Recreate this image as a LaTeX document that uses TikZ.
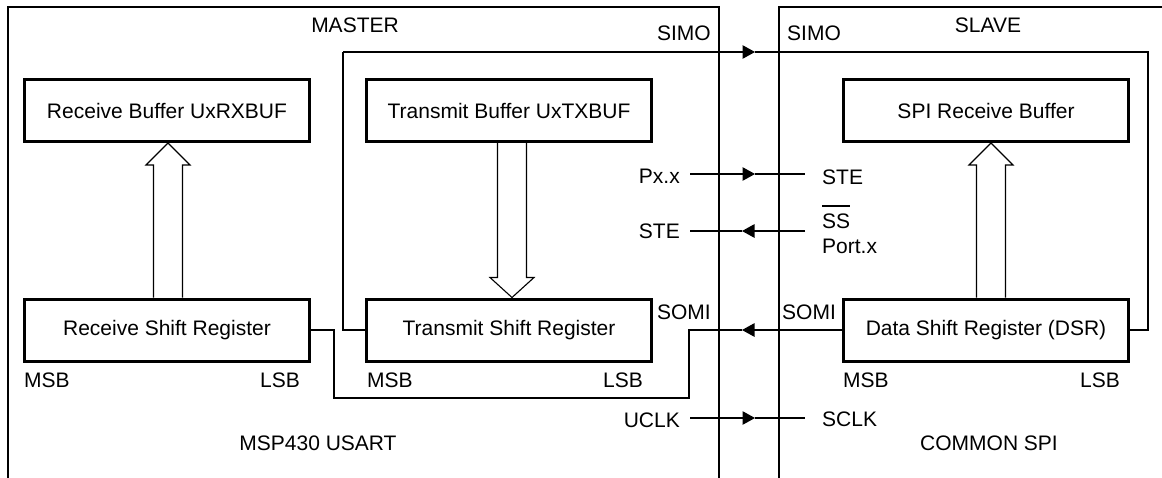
\documentclass[tikz,border=0pt]{standalone}
\usepackage{fontspec}
\setmainfont{Liberation Sans}
\usetikzlibrary{arrows.meta,calc}
\begin{document}
\begin{tikzpicture}[x=1pt,y=-1pt,
  frame/.style={line width=2pt},
  box/.style={draw, line width=3pt, minimum width=285pt, minimum height=62pt, inner sep=0pt, font=\fontsize{21}{24}\selectfont},
  lbl/.style={inner sep=0pt, font=\fontsize{21}{24}\selectfont},
  wire/.style={line width=1.1pt},
  tip/.style={-{Triangle[length=12.5pt,width=13.5pt]}},
  hollow/.style={line width=1.1pt, line join=miter}]
\useasboundingbox (0,0) rectangle (1162,477);
\clip (0,0) rectangle (1162,477);
\fill[white] (0,0) rectangle (1162,477);
% frames
\draw[frame] (8,490) -- (8,7) -- (719,7) -- (719,490);
\draw[frame] (779,490) -- (779,7) -- (1170,7);
% boxes
\node[box] (rxbuf) at (167,110.5) {Receive Buffer UxRXBUF};
\node[box] (txbuf) at (509,110.5) {Transmit Buffer UxTXBUF};
\node[box] (spirx) at (986,110.5) {SPI Receive Buffer};
\node[box] (rsr) at (167,330) {Receive Shift Register};
\node[box] (tsr) at (509,330) {Transmit Shift Register};
\node[box] (dsr) at (986,330) {Data Shift Register (DSR)};
% hollow arrows
\draw[hollow] let \p1=($(rsr.north)+(1,0)$), \p2=(rxbuf.south) in
  (\x1-14.5pt,\y1) -- (\x1-14.5pt,\y2-22pt) -- (\x1-22pt,\y2-22pt) -- (\x1,\y2)
  -- (\x1+22pt,\y2-22pt) -- (\x1+14.5pt,\y2-22pt) -- (\x1+14.5pt,\y1);
\draw[hollow] let \p1=($(txbuf.south)+(3,0)$), \p2=(tsr.north) in
  (\x1-14.5pt,\y1) -- (\x1-14.5pt,\y2+20pt) -- (\x1-22pt,\y2+20pt) -- (\x1,\y2)
  -- (\x1+22pt,\y2+20pt) -- (\x1+14.5pt,\y2+20pt) -- (\x1+14.5pt,\y1);
\draw[hollow] let \p1=($(dsr.north)+(5,0)$), \p2=(spirx.south) in
  (\x1-14.5pt,\y1) -- (\x1-14.5pt,\y2-22pt) -- (\x1-22pt,\y2-22pt) -- (\x1,\y2)
  -- (\x1+22pt,\y2-22pt) -- (\x1+14.5pt,\y2-22pt) -- (\x1+14.5pt,\y1);
% labels
\node[lbl, anchor=base] (master) at (355,32) {MASTER};
\node[lbl, anchor=base] (slave) at (988,32) {SLAVE};
\node[lbl, anchor=base east] (simoM) at (711,40.5) {SIMO};
\node[lbl, anchor=base west] (simoS) at (787,40.5) {SIMO};
\node[lbl, anchor=base east] (pxx) at (680,183) {Px.x};
\node[lbl, anchor=base east] (steM) at (680,238) {STE};
\node[lbl, anchor=base east] (somiM) at (711,319) {SOMI};
\node[lbl, anchor=base west] (somiS) at (782,319) {SOMI};
\node[lbl, anchor=base east] (uclk) at (680,427) {UCLK};
\node[lbl, anchor=base west] (steS) at (822,184) {STE};
\node[lbl, anchor=base west] (ss) at (822,228) {\rlap{\rule[21pt]{28pt}{2pt}}SS};
\node[lbl, anchor=base west] (port) at (822,253) {Port.x};
\node[lbl, anchor=base west] (sclk) at (822,426) {SCLK};
\node[lbl, anchor=base] (usart) at (318,450) {MSP430 USART};
\node[lbl, anchor=base] (cspi) at (989,450) {COMMON SPI};
\node[lbl, anchor=base west] (msb1) at (24,387) {MSB};
\node[lbl, anchor=base east] (lsb1) at (300,387) {LSB};
\node[lbl, anchor=base west] (msb2) at (367,387) {MSB};
\node[lbl, anchor=base east] (lsb2) at (643,387) {LSB};
\node[lbl, anchor=base west] (msb3) at (843,387) {MSB};
\node[lbl, anchor=base east] (lsb3) at (1120,387) {LSB};
% wire coordinates
\coordinate (simoL) at (343,52);
\coordinate (simoT) at (755,52);
\coordinate (simoR) at (1148,52);
\coordinate (somiT) at (742,330);
\coordinate (somiJ) at (689,330);
\coordinate (somiB) at (334,398);
\coordinate (pxA) at (690,174);
\coordinate (pxT) at (755,174);
\coordinate (pxB) at (805,174);
\coordinate (steA) at (690,231);
\coordinate (steT) at (742,231);
\coordinate (steB) at (805,231);
\coordinate (ckA) at (690,418);
\coordinate (ckT) at (755,418);
\coordinate (ckB) at (805,418);
% SIMO
\draw[wire] (tsr.west) -| (simoL);
\draw[wire,tip] (simoL) -- (simoT);
\draw[wire] (simoT) -| (simoR |- dsr.east) -- (dsr.east);
% SOMI
\draw[wire,tip] (dsr.west) -- (somiT);
\draw[wire] (somiT) -- (somiJ) |- (somiB) |- (rsr.east);
% STE / Px.x
\draw[wire,tip] (pxA) -- (pxT);
\draw[wire] (pxT) -- (pxB);
\draw[wire,tip] (steB) -- (steT);
\draw[wire] (steT) -- (steA);
% clock
\draw[wire,tip] (ckA) -- (ckT);
\draw[wire] (ckT) -- (ckB);
\end{tikzpicture}
\end{document}
